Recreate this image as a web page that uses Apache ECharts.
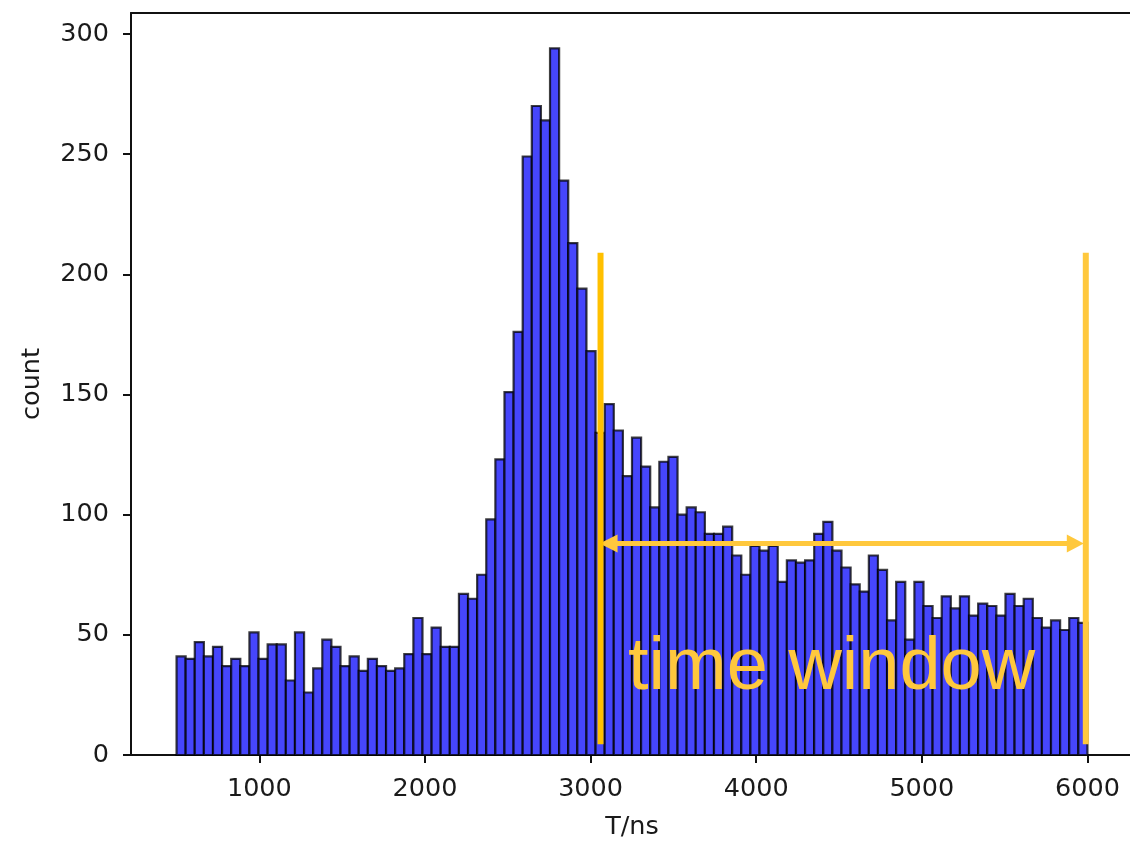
<!DOCTYPE html>
<html>
<head>
<meta charset="utf-8">
<script src="https://cdn.jsdelivr.net/npm/echarts@6/dist/echarts.min.js"></script>
<style>
  html, body { margin: 0; padding: 0; background: #fff; }
  #chart { width: 1130px; height: 843px; }
</style>
</head>
<body>
<div id="chart"></div>
<script>
// Histogram of arrival times: 100 bins of 55 ns starting at 500 ns
const binStart = 500;
const binWidth = 55;
const counts = [
  41, 40, 47, 41, 45, 37, 40, 37, 51, 40,
  46, 46, 31, 51, 26, 36, 48, 45, 37, 41,
  35, 40, 37, 35, 36, 42, 57, 42, 53, 45,
  45, 67, 65, 75, 98, 123, 151, 176, 249, 270,
  264, 294, 239, 213, 194, 168, 134, 146, 135, 116,
  132, 120, 103, 122, 124, 100, 103, 101, 92, 92,
  95, 83, 75, 87, 85, 87, 72, 81, 80, 81,
  92, 97, 85, 78, 71, 68, 83, 77, 56, 72,
  48, 72, 62, 57, 66, 61, 66, 58, 63, 62,
  58, 67, 62, 65, 57, 53, 56, 52, 57, 55
];

const xTicks = [1000, 2000, 3000, 4000, 5000, 6000];
const yTicks = [0, 50, 100, 150, 200, 250, 300];
const xRange = [225, 6275];
const yRange = [0, 308.7];

// "time window" annotation, in data units
const windowStart = 3060;
const windowEnd = 5990;
const windowLineTop = 209;
const windowLineBottom = 4.5;
const arrowLevel = 88;
const labelText = 'time window';
const labelAt = [3226, 36];

const histData = counts.map((c, i) => [binStart + i * binWidth, binStart + (i + 1) * binWidth, c]);

const chart = echarts.init(document.getElementById('chart'), null, { renderer: 'canvas' });

const axisFont = { fontFamily: 'DejaVu Sans', fontSize: 25.5, color: '#1a1a1a' };
const spine = { show: true, onZero: false, lineStyle: { color: '#111', width: 2 } };
const plain = (v) => String(v);

chart.setOption({
  animation: false,
  backgroundColor: '#ffffff',
  grid: { left: 131, top: 13, width: 1002, height: 742, outerBoundsMode: 'none', containLabel: false },
  xAxis: [{
    type: 'value',
    position: 'bottom',
    min: xRange[0], max: xRange[1],
    name: 'T/ns',
    nameLocation: 'middle',
    nameGap: 59,
    nameTextStyle: axisFont,
    axisLine: spine,
    axisTick: { show: true, customValues: xTicks, length: 8, lineStyle: { color: '#111', width: 2 } },
    axisLabel: Object.assign({ customValues: xTicks, margin: 21, formatter: plain }, axisFont),
    splitLine: { show: false }
  }, {
    // top spine only
    type: 'value',
    position: 'top',
    min: xRange[0], max: xRange[1],
    axisLine: spine,
    axisTick: { show: false },
    axisLabel: { show: false },
    splitLine: { show: false }
  }],
  yAxis: {
    type: 'value',
    min: yRange[0], max: yRange[1],
    name: 'count',
    nameLocation: 'middle',
    nameGap: 86,
    nameTextStyle: axisFont,
    axisLine: spine,
    axisTick: { show: true, customValues: yTicks, length: 8, lineStyle: { color: '#111', width: 2 } },
    axisLabel: Object.assign({ customValues: yTicks, margin: 22, formatter: plain }, axisFont),
    splitLine: { show: false }
  },
  series: [{
    type: 'custom',
    xAxisIndex: 0,
    data: histData,
    encode: { x: [0, 1], y: 2 },
    renderItem: function (params, api) {
      const topLeft = api.coord([api.value(0), api.value(2)]);
      const bottomRight = api.coord([api.value(1), 0]);
      return {
        type: 'rect',
        shape: {
          x: topLeft[0], y: topLeft[1],
          width: bottomRight[0] - topLeft[0],
          height: bottomRight[1] - topLeft[1]
        },
        style: { fill: '#4646fc', stroke: 'rgba(0,0,0,0.75)', lineWidth: 2.2 }
      };
    }
  }]
});

// Overlay the time-window marker, placed through the axis scales
function px(v) { return chart.convertToPixel({ xAxisIndex: 0, yAxisIndex: 0 }, v); }
const a0 = px([windowStart, windowLineTop]);
const a1 = px([windowStart, windowLineBottom]);
const b0 = px([windowEnd, windowLineTop]);
const b1 = px([windowEnd, windowLineBottom]);
const arrL = px([windowStart, arrowLevel]);
const arrR = px([windowEnd, arrowLevel]);
const txt = px(labelAt);
const lineColor = '#ffc000';
const noteColor = '#ffc83d';
const headLen = 17, headHalf = 9;

chart.setOption({
  graphic: [
    { type: 'line', shape: { x1: arrL[0] + headLen - 2, y1: arrL[1], x2: arrR[0] - headLen + 2, y2: arrR[1] },
      style: { stroke: noteColor, lineWidth: 5 }, z: 100 },
    { type: 'polygon', shape: { points: [[arrL[0] - 1, arrL[1]], [arrL[0] + headLen, arrL[1] - headHalf], [arrL[0] + headLen, arrL[1] + headHalf]] },
      style: { fill: noteColor }, z: 100 },
    { type: 'polygon', shape: { points: [[arrR[0] - 2, arrR[1]], [arrR[0] - headLen - 2, arrR[1] - headHalf], [arrR[0] - headLen - 2, arrR[1] + headHalf]] },
      style: { fill: noteColor }, z: 100 },
    { type: 'line', shape: { x1: a0[0], y1: a0[1], x2: a1[0], y2: a1[1] },
      style: { stroke: lineColor, lineWidth: 6 }, z: 101 },
    { type: 'line', shape: { x1: b0[0], y1: b0[1], x2: b1[0], y2: b1[1] },
      style: { stroke: noteColor, lineWidth: 6 }, z: 101 },
    { type: 'text', x: txt[0], y: txt[1], z: 102,
      style: { text: labelText, fill: noteColor, font: '74px "Liberation Sans", Arial, sans-serif',
               align: 'left', verticalAlign: 'middle' } }
  ]
});
</script>
</body>
</html>
